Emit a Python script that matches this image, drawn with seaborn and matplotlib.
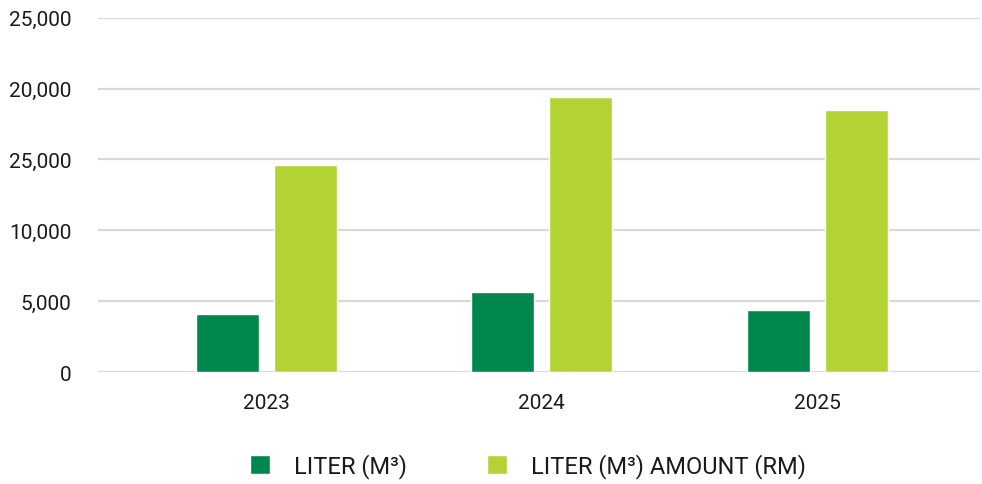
import pandas as pd
import matplotlib.pyplot as plt
import seaborn as sns

# values
years = ['2023', '2024', '2025']
liter_m3 = [4100, 5670, 4400]
liter_amount_rm = [14620, 19420, 18500]
series_names = ['LITER (M³)', 'LITER (M³) AMOUNT (RM)']
ytick_values = [0, 5000, 10000, 15000, 20000, 25000]
ytick_labels = ['0', '5,000', '10,000', '25,000', '20,000', '25,000']

df = pd.DataFrame({
    'year': years * 2,
    'value': liter_m3 + liter_amount_rm,
    'series': [series_names[0]] * 3 + [series_names[1]] * 3,
})

sns.set_style('white')
plt.rcParams['font.family'] = ['Roboto', 'DejaVu Sans']

fig = plt.figure(figsize=(9.82, 4.85), dpi=100)
ax = fig.add_axes([0.0998, 0.2309, 0.8982, 0.7305])

sns.barplot(data=df, x='year', y='value', hue='series',
            palette=['#00874B', '#B3D335'], width=0.566, gap=0.19,
            saturation=1, ax=ax, legend=True, zorder=3)

ax.set_ylim(0, 25000)
ax.set_xlim(-0.61, 2.59)
ax.set_yticks(ytick_values)
ax.set_yticklabels(ytick_labels)
ax.yaxis.grid(True, color='#D9D9D9', linewidth=1.6, zorder=0)
ax.set_axisbelow(True)
ax.set_xlabel('')
ax.set_ylabel('')
ax.tick_params(axis='y', length=0, pad=19, labelsize=15, labelcolor='#1a1a1a')
ax.tick_params(axis='x', length=0, pad=15, labelsize=15, labelcolor='#1a1a1a')
for s in ax.spines.values():
    s.set_visible(False)

handles, labels = ax.get_legend_handles_labels()
ax.get_legend().remove()
fig.legend(handles, labels, loc='center', bbox_to_anchor=(0.5377, 1 - 467 / 485),
           ncol=2, frameon=False, fontsize=17, handlelength=0.85,
           handleheight=0.85, handletextpad=1.0, columnspacing=3.4,
           labelcolor='#1a1a1a')

fig.savefig('out.png', dpi=100)
